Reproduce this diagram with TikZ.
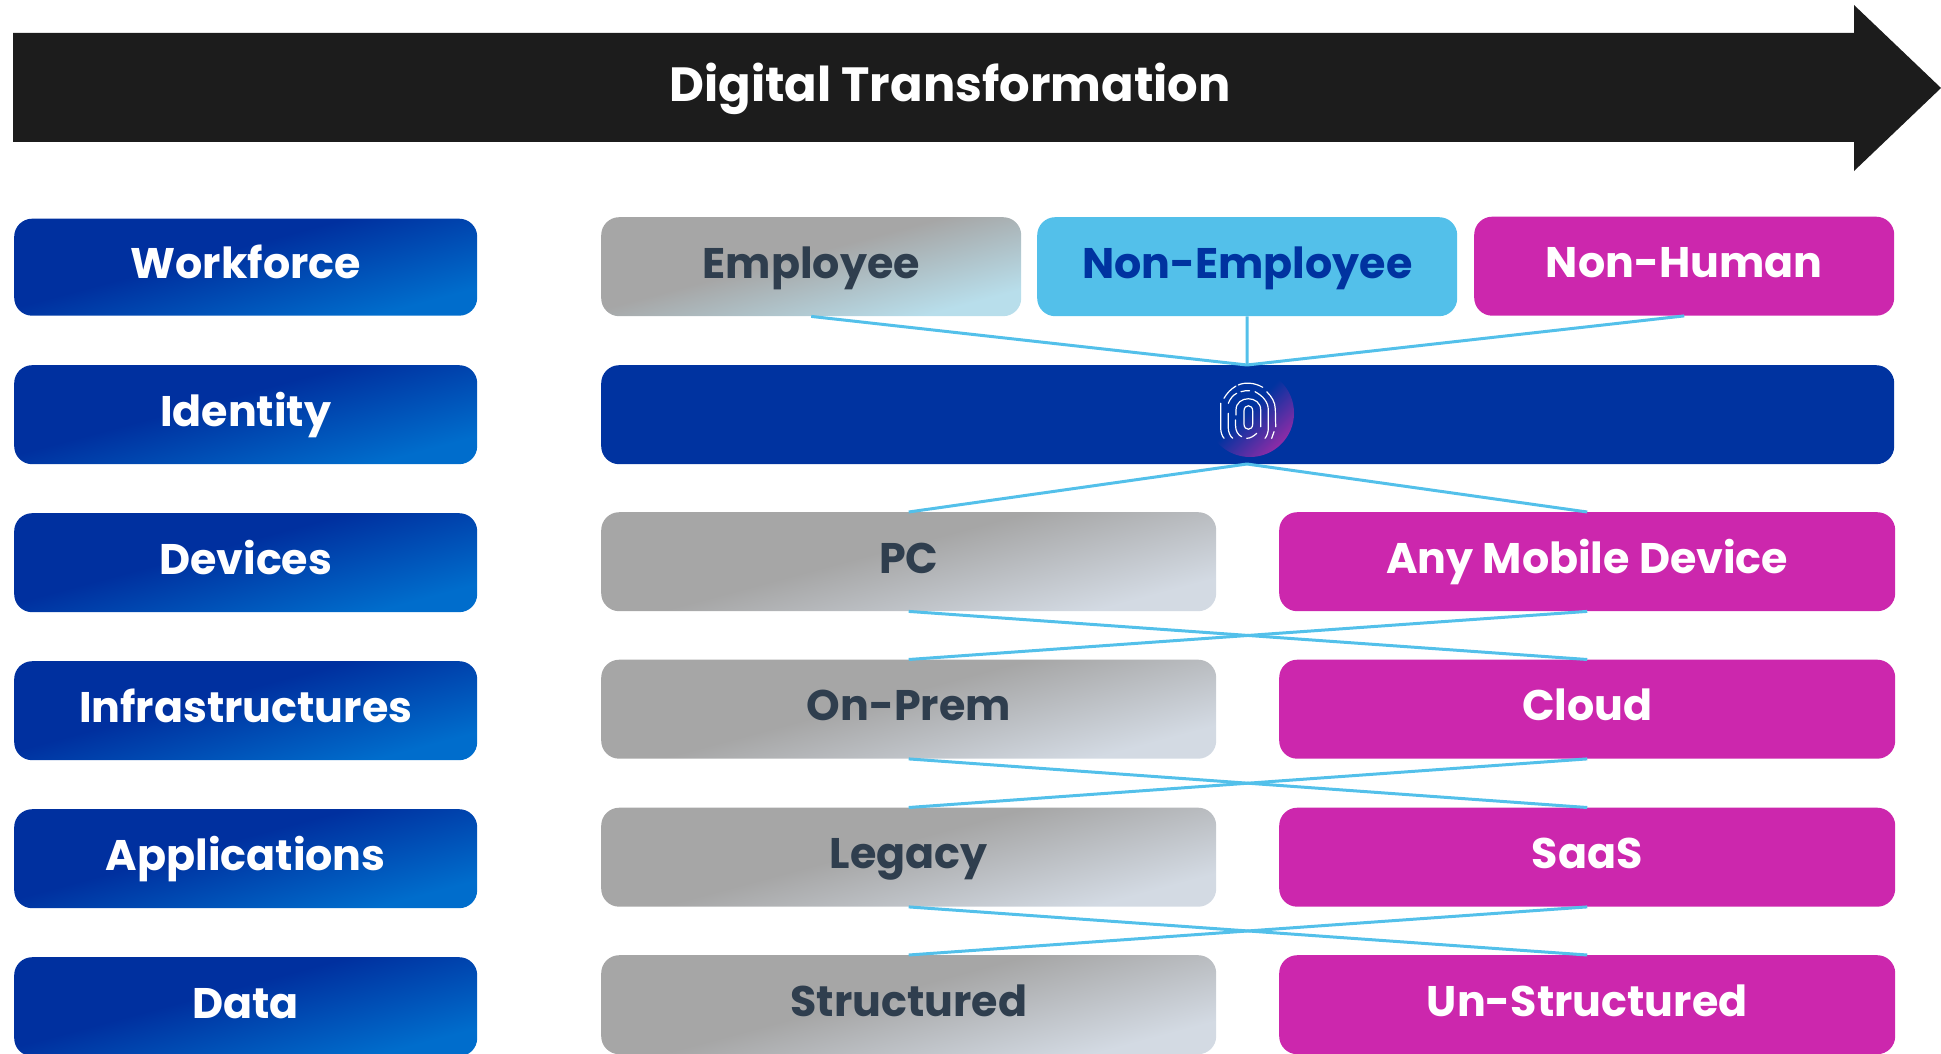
\documentclass[tikz,border=0pt]{standalone}
\usepackage{fontspec}
\setmainfont{Poppins}[BoldFont={Poppins Bold}]
\definecolor{arrowblack}{HTML}{1C1C1C}
\definecolor{navy}{HTML}{0033A0}
\definecolor{sky}{HTML}{53C0EA}
\definecolor{magent}{HTML}{CC27AD}
\definecolor{slatetext}{HTML}{2F3E4E}
\definecolor{bA}{HTML}{006DCC}\definecolor{bB}{HTML}{00309F}
\definecolor{gA}{HTML}{D3DAE3}\definecolor{gB}{HTML}{A6A6A6}
\definecolor{eA}{HTML}{B8DEEB}
\definecolor{fA}{HTML}{B42AA8}
\pgfdeclareverticalshading{bluegrad}{100bp}{color(0bp)=(bA); color(27bp)=(bA); color(56bp)=(bB); color(100bp)=(bB)}
\pgfdeclareverticalshading{greygrad}{100bp}{color(0bp)=(gA); color(27bp)=(gA); color(54bp)=(gB); color(100bp)=(gB)}
\pgfdeclareverticalshading{empgrad}{100bp}{color(0bp)=(eA); color(27bp)=(eA); color(54bp)=(gB); color(100bp)=(gB)}
\pgfdeclareverticalshading{fpgrad}{100bp}{color(0bp)=(fA); color(18bp)=(fA); color(52bp)=(navy); color(100bp)=(navy)}
\tikzset{
  x=1pt,y=-1pt,
  tile/.style={rounded corners=18pt,minimum height=99pt,inner sep=0pt,font=\fontsize{42.8}{42.8}\selectfont\bfseries,anchor=north west,align=center,text height=31pt,text depth=8pt},
  leftbox/.style={tile,minimum width=463pt,shading=bluegrad,shading angle=15,text=white},
  greybox/.style={tile,minimum width=615pt,shading=greygrad,shading angle=15,text=slatetext},
  pinkbox/.style={tile,minimum width=616pt,fill=magent,text=white},
  toptile/.style={tile,minimum width=420pt},
  link/.style={draw=sky,line width=3pt},
  ridge/.style={draw=white,line width=1.2pt,line cap=round},
}
\begin{document}
\begin{tikzpicture}
\useasboundingbox (0,0) rectangle (1941,1054);
\begin{scope}
\clip (0,0) rectangle (1941,1054);
\fill[arrowblack] (13,33) -- (1854,33) -- (1854,5) -- (1941,88) -- (1854,171) -- (1854,142) -- (13,142) -- cycle;
\node[text=white,font=\fontsize{48}{48}\selectfont\bfseries] (title) at (950,89) {Digital Transformation};

\node[leftbox,minimum height=97pt] (lWork) at (14,218.5) {Workforce};
\node[leftbox] (lIden) at (14,365) {Identity};
\node[leftbox] (lDev) at (14,513) {Devices};
\node[leftbox] (lInf) at (14,661) {Infrastructures};
\node[leftbox] (lApp) at (14,809) {Applications};
\node[leftbox] (lData) at (14,957) {Data};

\node[toptile,shading=empgrad,shading angle=15,text=slatetext] (emp) at (601,217) {Employee};
\node[toptile,fill=sky,text=navy] (nonemp) at (1037,217) {Non-Employee};
\node[toptile,fill=magent,text=white] (nonhum) at (1474,216.5) {Non-Human};
\node[tile,minimum width=1293pt,fill=navy] (idbar) at (601,365) {};

\node[greybox] (pc) at (601,512) {PC};
\node[pinkbox] (mob) at (1279,512) {Any Mobile Device};
\node[greybox] (onprem) at (601,659.5) {On-Prem};
\node[pinkbox] (cloud) at (1279,659.5) {Cloud};
\node[greybox] (legacy) at (601,807.5) {Legacy};
\node[pinkbox] (saas) at (1279,807.5) {SaaS};
\node[greybox] (struct) at (601,955) {Structured};
\node[pinkbox] (unstruct) at (1279,955) {Un-Structured};

\coordinate (idtop) at (1247,365);
\coordinate (idbot) at (1247,464);
\draw[link] (emp.south) -- (idtop);
\draw[link] (nonemp.south) -- (idtop);
\draw[link] (nonhum.south) -- (idtop);
\draw[link] (idbot) -- (pc.north);
\draw[link] (idbot) -- (mob.north);
\draw[link] (pc.south) -- (cloud.north);
\draw[link] (mob.south) -- (onprem.north);
\draw[link] (onprem.south) -- (saas.north);
\draw[link] (cloud.south) -- (legacy.north);
\draw[link] (legacy.south) -- (unstruct.north);
\draw[link] (saas.south) -- (struct.north);

% fingerprint badge
\shade[shading=fpgrad,shading angle=45] (1250,413) circle[radius=44];
\begin{scope}[shift={(1248,411)}]
% core loop
\draw[ridge] (-4,0) .. controls (-4,-7) and (4.7,-7) .. (4.7,0) -- (4.7,13) .. controls (4.7,20) and (-4,20) .. (-4,13) -- cycle;
% second arch
\draw[ridge] (-12,4) -- (-12,-1) .. controls (-12,-16) and (12.7,-16) .. (12.7,-1) -- (12.7,15.7);
\draw[ridge] (-12.5,9) -- (-12.5,14) .. controls (-12.5,20) and (-10,24) .. (-6.3,25.7);
\draw[ridge] (-1.3,27.3) .. controls (2,27.5) and (6,25) .. (8.7,22.3);
% third arch
\draw[ridge] (-19.7,2.3) -- (-19.7,17.3) .. controls (-19.7,21) and (-18,25) .. (-15.3,27.3);
\draw[ridge] (-19.7,-7.7) .. controls (-18,-12) and (-15,-16) .. (-11.3,-17.7);
\draw[ridge] (-7,-19.3) .. controls (-4,-20.3) and (-1,-20.5) .. (1.5,-20.3);
\draw[ridge] (7,-19.3) .. controls (15,-15) and (20.3,-9) .. (20.3,-1) -- (20.3,17.3) .. controls (20.3,21) and (19,25) .. (17,27.3);
% outer arch
\draw[ridge] (-27.3,-7.7) -- (-27.3,17.3) .. controls (-27.3,21) and (-26,25) .. (-24,27.3);
\draw[ridge] (-24,-12.7) .. controls (-21,-18) and (-17,-22) .. (-12,-25);
\draw[ridge] (-9.7,-26) .. controls (-4,-28.8) and (6,-28.8) .. (14.7,-23.7);
\draw[ridge] (18.7,-19.3) .. controls (24,-14) and (27,-9) .. (27.3,-2) -- (27.7,15.7);
\draw[ridge] (26,20.7) -- (23.7,27.3);
\end{scope}
\end{scope}
\end{tikzpicture}
\end{document}
